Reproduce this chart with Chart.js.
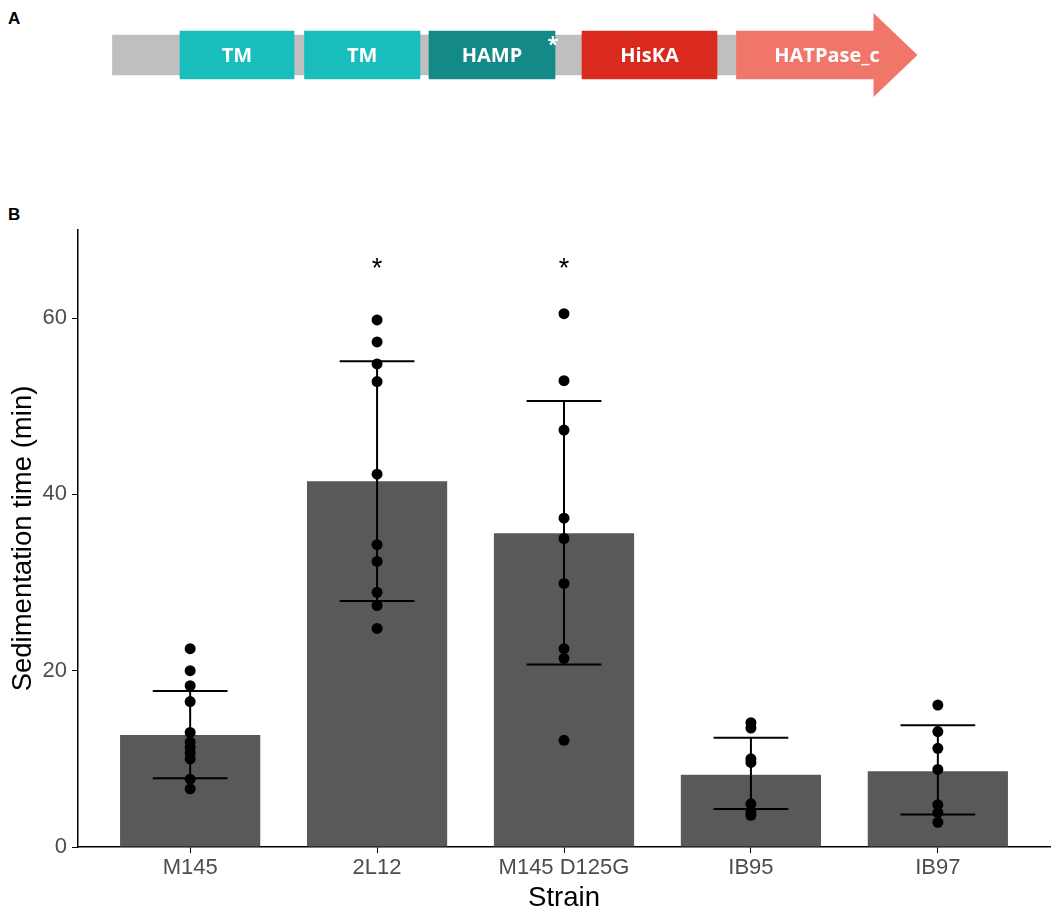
<!DOCTYPE html>
<html>
<head>
<meta charset="utf-8">
<title>Sedimentation time</title>
<script src="https://cdn.jsdelivr.net/npm/chart.js@4.4.1/dist/chart.umd.min.js"></script>
<style>
  body { margin: 0; background: #fff; font-family: "Liberation Sans", Arial, sans-serif; }
  #wrap { position: relative; width: 1062px; height: 918px; overflow: hidden; }
  .panel { position: absolute; left: 8px; font-weight: bold; font-size: 17px; color: #000; }
  #boxA { position: absolute; left: 0; top: 0; width: 1062px; height: 110px; }
  #boxB { position: absolute; left: 0; top: 200px; width: 1062px; height: 718px; }
</style>
</head>
<body>
<div id="wrap">
  <div class="panel" style="top:9px">A</div>
  <div class="panel" style="top:205px">B</div>
  <div id="boxA"><canvas id="domainChart"></canvas></div>
  <div id="boxB"><canvas id="sedChart"></canvas></div>
</div>
<script>
// Panel A: domain layout (residue-like units)
const proteinStart = 0;
const proteinEnd = 420;
const domainNames = ['TM', 'TM', 'HAMP', 'HisKA', 'HATPase_c'];
const domainStart = [45, 128, 211, 313, 416];
const domainEnd = [121, 205, 295, 403, 508];
const domainColors = ['#19BEBC', '#19BEBC', '#138A87', '#D92A1D', '#F0766A'];

// Panel B: sedimentation data
const strains = ['M145', '2L12', 'M145 D125G', 'IB95', 'IB97'];
const meanTime = [12.7, 41.5, 35.6, 8.2, 8.6];
const errLow = [7.8, 27.9, 20.7, 4.3, 3.7];
const errHigh = [17.7, 55.1, 50.6, 12.4, 13.8];
const signif = ['', '*', '*', '', ''];
const yTicks = [0, 20, 40, 60];

const m145Pts = [22.5, 20.0, 18.3, 16.5, 13.0, 11.9, 11.3, 10.7, 10.0, 7.7, 6.6];
const l12Pts = [59.8, 57.3, 54.8, 52.8, 42.3, 34.3, 32.4, 28.9, 27.4, 24.8];
const d125gPts = [60.5, 52.9, 47.3, 37.3, 35.0, 29.9, 22.5, 21.4, 12.1];
const ib95Pts = [14.1, 13.5, 10.0, 9.6, 4.9, 4.0, 3.6];
const ib97Pts = [16.1, 13.1, 11.2, 8.8, 4.8, 3.9, 2.8];

const pointGroups = [m145Pts, l12Pts, d125gPts, ib95Pts, ib97Pts];

const axisFont = '"Liberation Sans", Arial, sans-serif';

// ---------- Panel A ----------
const domainLabels = {
    id: 'domainLabels',
    afterDatasetsDraw(chart) {
        const { ctx } = chart;
        const meta = chart.getDatasetMeta(1);
        ctx.save();
        meta.data.forEach((el, i) => {
            let right = el.x;
            if (i === domainNames.length - 1) {
                // arrow head on the last domain
                const head = 43;
                ctx.fillStyle = domainColors[i];
                ctx.beginPath();
                ctx.moveTo(el.x - 1, el.y - 42);
                ctx.lineTo(el.x + head, el.y);
                ctx.lineTo(el.x - 1, el.y + 42);
                ctx.closePath();
                ctx.fill();
                right = el.x + head;
            }
            ctx.fillStyle = '#fff';
            ctx.font = 'bold 20px "Open Sans", sans-serif';
            ctx.textAlign = 'center';
            ctx.textBaseline = 'middle';
            ctx.fillText(domainNames[i], (el.base + right) / 2, el.y + 1);
            if (domainNames[i] === 'HAMP') {
                ctx.fillText('*', el.x - 2, el.y - 10);
            }
        });
        ctx.restore();
    }
};

new Chart(document.getElementById('domainChart').getContext('2d'), {
    type: 'bar',
    data: {
        labels: ['HK'],
        datasets: [{
            label: 'backbone',
            data: [{ x: [proteinStart, proteinEnd], y: 'HK' }],
            backgroundColor: '#BFBFBF',
            barThickness: 40,
            grouped: false,
            order: 1
        }, {
            label: 'domains',
            data: domainNames.map((n, i) => ({ x: [domainStart[i], domainEnd[i]], y: 'HK' })),
            backgroundColor: domainColors,
            barThickness: 48,
            grouped: false,
            order: 0
        }]
    },
    options: {
        indexAxis: 'y',
        responsive: true,
        maintainAspectRatio: false,
        animation: false,
        layout: { padding: 0 },
        plugins: { legend: { display: false }, tooltip: { enabled: false } },
        scales: {
            x: { type: 'linear', min: -75, max: 633, display: false },
            y: { display: false }
        }
    },
    plugins: [domainLabels]
});

// ---------- Panel B ----------
const capWidth = 0.4;
const errorBars = {
    id: 'errorBars',
    beforeDatasetDraw(chart, args) {
        if (args.index !== 1) return;
        const { ctx, scales: { x, y } } = chart;
        const half = (x.getPixelForValue(capWidth / 2) - x.getPixelForValue(0));
        ctx.save();
        ctx.strokeStyle = '#000';
        ctx.lineWidth = 2;
        strains.forEach((s, i) => {
            const cx = x.getPixelForValue(i);
            const top = y.getPixelForValue(errHigh[i]);
            const bot = y.getPixelForValue(errLow[i]);
            ctx.beginPath();
            ctx.moveTo(cx, top); ctx.lineTo(cx, bot);
            ctx.moveTo(cx - half, top); ctx.lineTo(cx + half, top);
            ctx.moveTo(cx - half, bot); ctx.lineTo(cx + half, bot);
            ctx.stroke();
        });
        ctx.restore();
    },
    afterDatasetsDraw(chart) {
        const { ctx, scales: { x, y } } = chart;
        ctx.save();
        ctx.fillStyle = '#000';
        ctx.font = '27px ' + axisFont;
        ctx.textAlign = 'center';
        ctx.textBaseline = 'middle';
        signif.forEach((s, i) => {
            if (s) ctx.fillText(s, x.getPixelForValue(i), y.getPixelForValue(65.5));
        });
        ctx.restore();
    }
};

const dotData = [];
pointGroups.forEach((pts, i) => pts.forEach(v => dotData.push({ x: i, y: v })));

new Chart(document.getElementById('sedChart').getContext('2d'), {
    type: 'bar',
    data: {
        datasets: [{
            type: 'bar',
            label: 'Mean',
            data: meanTime.map((v, i) => ({ x: i, y: v })),
            backgroundColor: '#595959',
            borderWidth: 0,
            barPercentage: 0.75,
            categoryPercentage: 1,
            order: 1
        }, {
            type: 'line',
            label: 'Replicates',
            data: dotData,
            showLine: false,
            pointRadius: 5.5,
            pointBackgroundColor: '#000',
            pointBorderWidth: 0,
            order: 0
        }]
    },
    options: {
        responsive: true,
        maintainAspectRatio: false,
        animation: false,
        layout: { padding: { left: 0, right: 12, top: 30, bottom: 0 } },
        plugins: { legend: { display: false }, tooltip: { enabled: false } },
        scales: {
            x: {
                type: 'linear',
                min: -0.6,
                max: 4.6,
                offset: false,
                afterBuildTicks: scale => { scale.ticks = strains.map((s, i) => ({ value: i })); },
                afterFit: scale => { scale.height = 71; },
                ticks: {
                    callback: v => strains[v],
                    color: '#4D4D4D',
                    font: { family: axisFont, size: 22 },
                    padding: 2,
                    maxRotation: 0
                },
                grid: { drawOnChartArea: false, offset: false, tickLength: 6, color: '#000' },
                border: { color: '#000', width: 1.5 },
                title: {
                    display: true,
                    text: 'Strain',
                    color: '#000',
                    padding: { top: 0, bottom: 3 },
                    font: { family: axisFont, size: 27.5 }
                }
            },
            y: {
                min: 0,
                max: 70,
                afterBuildTicks: scale => { scale.ticks = yTicks.map(v => ({ value: v })); },
                afterFit: scale => { scale.width = 78; },
                ticks: {
                    color: '#4D4D4D',
                    font: { family: axisFont, size: 22 },
                    padding: 5
                },
                grid: { drawOnChartArea: false, tickLength: 6, color: '#000' },
                border: { color: '#000', width: 1.5 },
                title: {
                    display: true,
                    text: 'Sedimentation time (min)',
                    color: '#000',
                    padding: { top: 7, bottom: 0 },
                    font: { family: axisFont, size: 27.5 }
                }
            }
        }
    },
    plugins: [errorBars]
});
</script>
</body>
</html>
